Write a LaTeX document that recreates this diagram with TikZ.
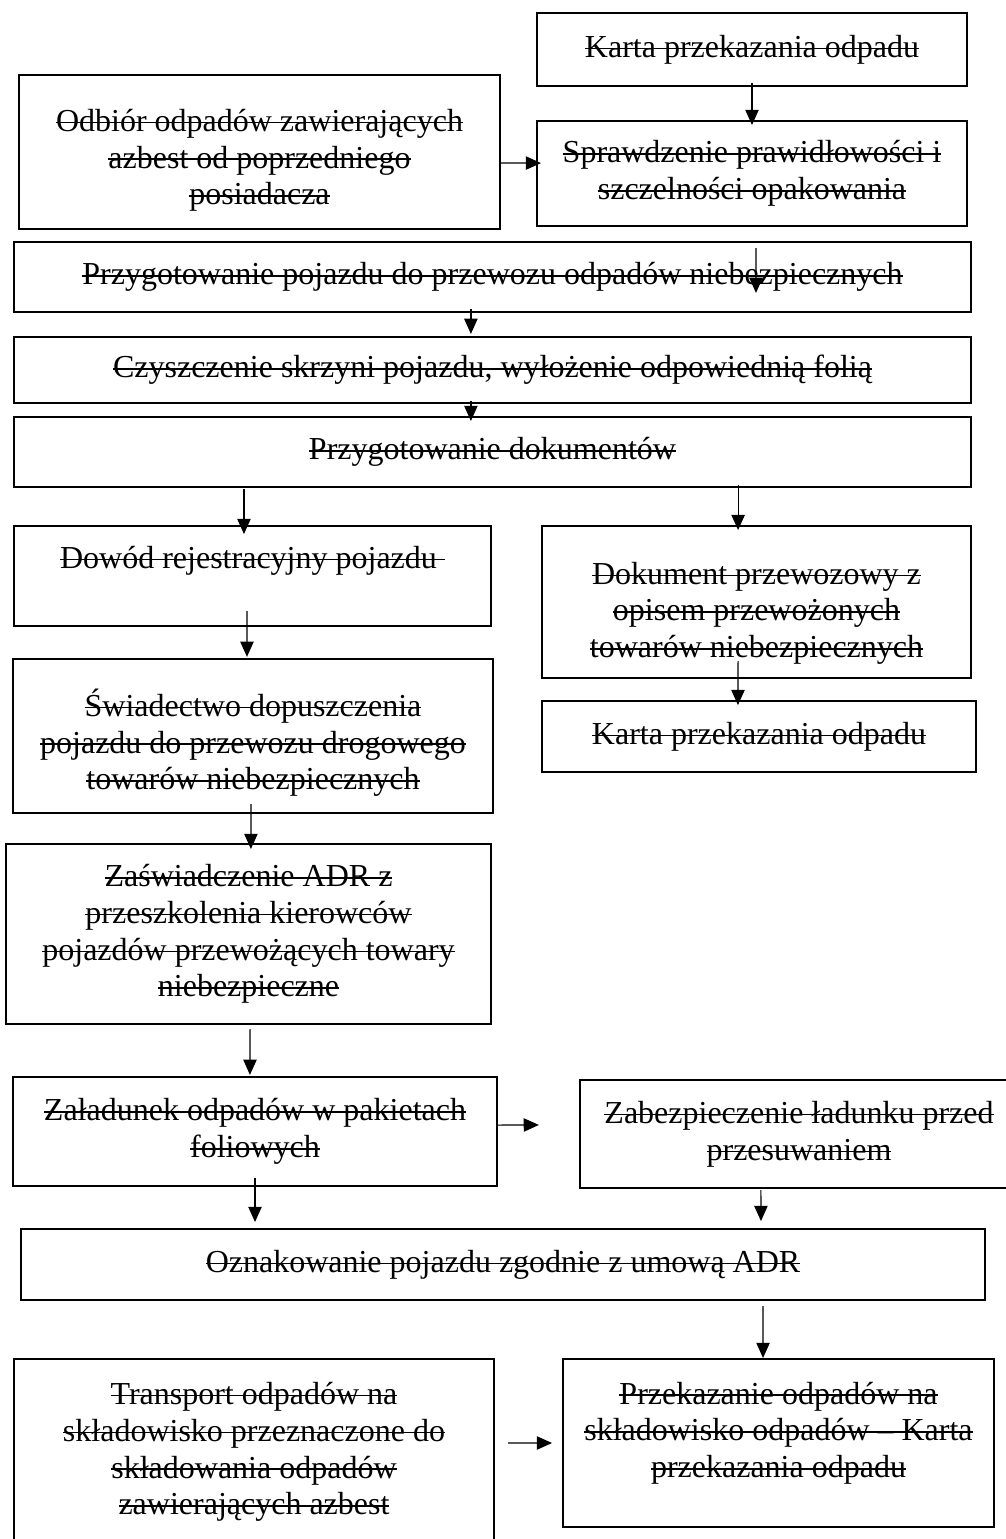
\documentclass[tikz,border=0pt]{standalone}
\usepackage{fontspec}
\setmainfont{Liberation Serif}
\usepackage{tikz}
\usetikzlibrary{shapes,arrows.meta}
\newsavebox\stkbox
\newcommand{\stk}[1]{\sbox\stkbox{#1}\rlap{\usebox\stkbox}\rule[0.25em]{\wd\stkbox}{0.6pt}}
\tikzstyle{block} = [rectangle, draw, line width=0.75pt, align=center, inner sep=0pt, font=\fontsize{12}{13.8}\selectfont]
\tikzstyle{line} = [draw, line width=0.45pt, -{Triangle[length=5.7pt,width=5pt]}]

\begin{document}
\begin{tikzpicture}[x=0.375pt, y=-0.375pt]
      \useasboundingbox (0,0) rectangle (1006,1539);
      % Place nodes
      \node [block, minimum width=161.3pt, minimum height=27.4pt] (karta1) at (752,49.5) {\stk{Karta przekazania odpadu}};
      \node [block, minimum width=180.4pt, minimum height=57.8pt, text height=39.6pt, text depth=0pt] (odbior) at (259.5,152) {\stk{Odbiór odpadów zawierających}\\\stk{azbest od poprzedniego}\\\stk{posiadacza}};
      \node [block, minimum width=161.3pt, minimum height=39.4pt] (sprawdz) at (752,173.5) {\stk{Sprawdzenie prawidłowości i}\\\stk{szczelności opakowania}};
      \node [block, minimum width=358.9pt, minimum height=26.3pt] (przygpoj) at (492.5,277) {\stk{Przygotowanie pojazdu do przewozu odpadów niebezpiecznych}};
      \node [block, minimum width=358.9pt, minimum height=24.8pt] (czyszcz) at (492.5,370) {\stk{Czyszczenie skrzyni pojazdu, wyłożenie odpowiednią folią}};
      \node [block, minimum width=358.9pt, minimum height=26.3pt] (przygdok) at (492.5,452) {\stk{Przygotowanie dokumentów}};
      \node [block, minimum width=178.9pt, minimum height=37.5pt, text depth=14pt] (dowod) at (252.5,576) {\stk{Dowód rejestracyjny pojazdu\ }};
      \node [block, minimum width=160.9pt, minimum height=57pt, text height=41.8pt, text depth=0pt] (dokument) at (756.5,602) {\stk{Dokument przewozowy z}\\\stk{opisem przewożonych}\\\stk{towarów niebezpiecznych}};
      \node [block, minimum width=180pt, minimum height=57.8pt, text height=40.4pt, text depth=0pt] (swiad) at (253,736) {\stk{Świadectwo dopuszczenia}\\\stk{pojazdu do przewozu drogowego}\\\stk{towarów niebezpiecznych}};
      \node [block, minimum width=162.8pt, minimum height=26.6pt] (karta2) at (759,736.5) {\stk{Karta przekazania odpadu}};
      \node [block, minimum width=181.9pt, minimum height=67.5pt] (zaswiad) at (248.5,934) {\stk{Zaświadczenie ADR z}\\\stk{przeszkolenia kierowców}\\\stk{pojazdów przewożących towary}\\\stk{niebezpieczne}};
      \node [block, minimum width=181.5pt, minimum height=40.9pt] (zaladunek) at (255,1131.5) {\stk{Załadunek odpadów w pakietach}\\\stk{foliowych}};
      \node [block, minimum width=164.3pt, minimum height=40.5pt] (zabezp) at (799,1134) {\stk{Zabezpieczenie ładunku przed}\\\stk{przesuwaniem}};
      \node [block, minimum width=361.5pt, minimum height=26.6pt] (oznak) at (503,1264.5) {\stk{Oznakowanie pojazdu zgodnie z umową ADR}};
      \node [block, minimum width=180pt, minimum height=69.4pt] (transport) at (254,1452) {\stk{Transport odpadów na}\\\stk{składowisko przeznaczone do}\\\stk{składowania odpadów}\\\stk{zawierających azbest}};
      \node [block, minimum width=161.6pt, minimum height=63pt, text depth=10pt] (przekaz) at (778.5,1443) {\stk{Przekazanie odpadów na}\\\stk{składowisko odpadów – Karta}\\\stk{przekazania odpadu}};

      % Draw edges
      \path [line] ([yshift=-4.1pt]odbior.east) -- ([xshift=1.9pt,yshift=3.9pt]sprawdz.west);
      \path [line] ([yshift=1.5pt]karta1.south) -- ([yshift=-1.9pt]sprawdz.north);
      \path [line] ([xshift=1.5pt,yshift=-7.9pt]sprawdz.south) -- ([xshift=98.8pt,yshift=-19.5pt]przygpoj.north);
      \path [line] ([xshift=-8.1pt,yshift=1.5pt]przygpoj.south) -- ([xshift=-8.1pt,yshift=0.75pt]czyszcz.north);
      \path [line] ([xshift=-8.1pt,yshift=1.1pt]czyszcz.south) -- ([xshift=-8.1pt,yshift=-1.9pt]przygdok.north);
      \path [line] ([xshift=-93.2pt,yshift=-0.4pt]przygdok.south) -- ([xshift=-3.2pt,yshift=-3.4pt]dowod.north);
      \path [line] ([xshift=92.1pt,yshift=1.1pt]przygdok.south) -- ([xshift=-6.9pt,yshift=-1.9pt]dokument.north);
      \path [line] ([xshift=-2.1pt,yshift=6pt]dowod.south) -- ([xshift=-2.25pt,yshift=0.4pt]swiad.north);
      \path [line] ([xshift=-6.9pt,yshift=6.75pt]dokument.south) -- ([xshift=-7.9pt,yshift=-1.9pt]karta2.north);
      \path [line] ([xshift=-0.75pt,yshift=3.75pt]swiad.south) -- ([xshift=0.9pt,yshift=-2.25pt]zaswiad.north);
      \path [line] ([xshift=0.6pt,yshift=-1.5pt]zaswiad.south) -- ([xshift=-1.9pt,yshift=0.4pt]zaladunek.north);
      \path [line] ([yshift=2.4pt]zaladunek.east) -- ([xshift=-15pt,yshift=3.4pt]zabezp.west);
      \path [line] ([yshift=3.4pt]zaladunek.south) -- ([xshift=-93pt,yshift=2.25pt]oznak.north);
      \path [line] ([xshift=-14.3pt,yshift=-0.4pt]zabezp.south) -- ([xshift=96.75pt,yshift=2.6pt]oznak.north);
      \path [line] ([xshift=97.5pt,yshift=-1.9pt]oznak.south) -- ([xshift=-5.8pt]przekaz.north);
      \path [line] ([xshift=4.9pt,yshift=3.4pt]transport.east) -- ([xshift=-3.75pt]przekaz.west);
\end{tikzpicture}
\end{document}
